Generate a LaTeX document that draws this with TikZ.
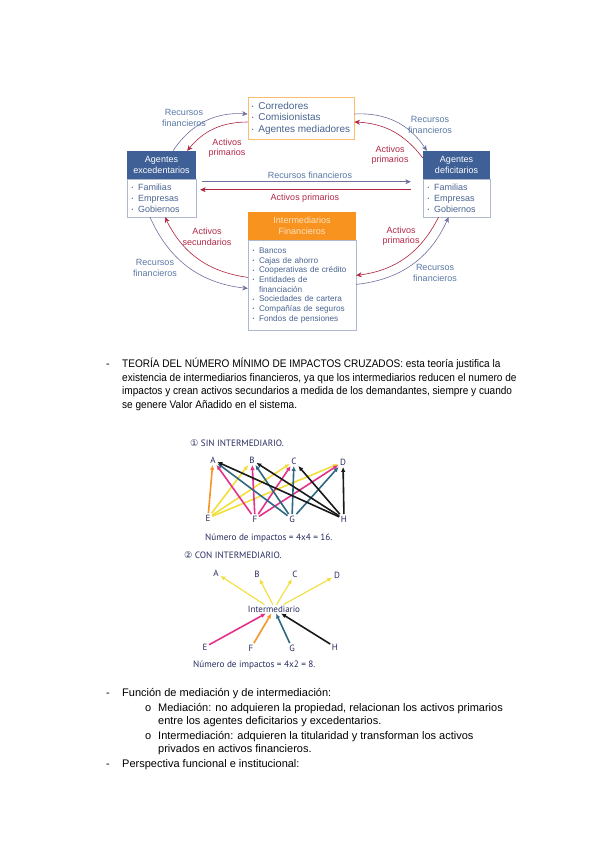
\documentclass[tikz,border=0pt]{standalone}
\usepackage{fontspec}
\setmainfont{Liberation Sans}
\newfontfamily\condfont[FakeStretch=0.915]{Liberation Sans}
\newfontfamily\handfont{PT Sans}
\newfontfamily\symfont{DejaVu Sans}
\usetikzlibrary{arrows.meta,calc,positioning}
\definecolor{headblue}{RGB}{62,96,150}
\definecolor{listblue}{RGB}{74,100,145}
\definecolor{flowblue}{RGB}{112,112,160}
\definecolor{flowred}{RGB}{176,35,63}
\definecolor{labblue}{RGB}{90,120,165}
\definecolor{labred}{RGB}{180,40,70}
\definecolor{medorange}{RGB}{247,147,30}
\definecolor{lightorange}{RGB}{250,190,110}
\definecolor{paleorange}{RGB}{253,228,195}
\definecolor{boxgrey}{RGB}{175,185,205}
\definecolor{handnavy}{RGB}{40,45,95}
\definecolor{inkorange}{RGB}{245,150,40}
\definecolor{inkyellow}{RGB}{242,222,60}
\definecolor{inkpink}{RGB}{228,50,140}
\definecolor{inkteal}{RGB}{45,105,130}
\definecolor{inkblack}{RGB}{25,25,25}
\newcommand\itm{\makebox[6.5pt][l]{\raisebox{0.8pt}{\fontsize{5}{5}\selectfont•}}}
\tikzset{
  headbox/.style={fill=headblue,text=white,minimum height=28pt,align=center,
    inner sep=0pt,font=\fontsize{9}{11}\selectfont},
  listbox/.style={draw=boxgrey,fill=white,text=listblue,align=left,inner sep=4.5pt,
    font=\fontsize{9}{11}\selectfont},
  flowlab/.style={align=center,inner sep=0pt,font=\fontsize{9}{10.5}\selectfont},
  blueflow/.style={flowblue,semithick,-{Stealth[length=5.5pt,width=5pt]}},
  redflow/.style={flowred,semithick,-{Stealth[length=5.5pt,width=5pt]}},
  bodytext/.style={anchor=base west,inner sep=0pt,font=\fontsize{11}{14}\selectfont},
  condtext/.style={bodytext,font=\condfont\fontsize{11}{14}\selectfont},
  handlab/.style={text=handnavy,inner sep=1.5pt,font=\handfont\fontsize{9}{10}\selectfont},
  handnote/.style={text=handnavy,anchor=base west,inner sep=0pt,font=\handfont\fontsize{9.2}{10}\selectfont},
  ink/.style={line width=1.6pt,-{Latex[length=5pt,width=4.5pt]}},
}

\begin{document}
\begin{tikzpicture}[x=1pt,y=-1pt]
  \useasboundingbox (0,0) rectangle (599,848);
  \fill[white] (0,0) rectangle (599,848);

  % sistema financiero
  \node[draw=lightorange,line width=0.8pt,fill=white,text=listblue,align=left,
    minimum width=106pt,minimum height=42pt,inner sep=3pt,
    font=\fontsize{10}{11.5}\selectfont] (med) at (301,118)
    {\itm Corredores\\ \itm Comisionistas\\ \itm Agentes mediadores};
  \node[headbox,minimum width=69pt] (exchead) at (161.5,165) {Agentes\\excedentarios};
  \node[listbox,text width=60pt,minimum height=37pt,below=0pt of exchead] (exclist)
    {\itm Familias\\ \itm Empresas\\ \itm Gobiernos};
  \node[headbox,minimum width=67pt] (defhead) at (456.5,165) {Agentes\\deficitarios};
  \node[listbox,text width=58pt,minimum height=37pt,below=0pt of defhead] (deflist)
    {\itm Familias\\ \itm Empresas\\ \itm Gobiernos};
  \node[headbox,fill=medorange,text=paleorange,minimum width=108pt] (inthead) at (302,226)
    {Intermediarios\\Financieros};
  \node[listbox,text width=99pt,minimum height=90pt,below=0pt of inthead,
    font=\fontsize{8.2}{9.7}\selectfont] (intlist)
    {\itm Bancos\\ \itm Cajas de ahorro\\ \itm Cooperativas de crédito\\
     \itm Entidades de\\ \hspace*{6.5pt}financiación\\ \itm Sociedades de cartera\\
     \itm Compañías de seguros\\ \itm Fondos de pensiones};

  \draw[blueflow] ([xshift=11.5pt]exchead.north) to[bend left=30] ([yshift=4pt]med.west);
  \draw[redflow] ([yshift=-4pt]med.west) to[bend right=25] ([xshift=-9pt]exchead.north east);
  \draw[blueflow] ([yshift=4pt]med.east) to[bend left=30] ([xshift=4pt]defhead.north west);
  \draw[redflow] ([yshift=7pt]defhead.west) to[bend right=25] ([yshift=-4pt]med.east);
  \draw[redflow] ([yshift=8pt]intlist.west) to[bend left=28] ([xshift=3.5pt]exclist.south);
  \draw[blueflow] ([xshift=-11.5pt]exclist.south) to[bend right=30] ([yshift=-3pt]intlist.west);
  \draw[redflow] ([xshift=-18pt]deflist.south) to[bend left=28] ([yshift=10pt]intlist.east);
  \draw[blueflow] ([yshift=1pt]intlist.east) to[bend right=30] ([xshift=-8pt]deflist.south);
  \draw[blueflow,shorten <=6pt,shorten >=12pt] ([yshift=16.5pt]exclist.east) -- ([yshift=16.5pt]deflist.west);
  \draw[redflow,shorten <=12pt,shorten >=4pt] ([yshift=8.5pt]deflist.west) -- ([yshift=8.5pt]exclist.east);

  \node[flowlab,text=labblue] (rf1) at (184,118) {Recursos\\financieros};
  \node[flowlab,text=labred] (ap1) at (227,148) {Activos\\primarios};
  \node[flowlab,text=labblue] (rf2) at (430,125) {Recursos\\financieros};
  \node[flowlab,text=labred] (ap2) at (390,155) {Activos\\primarios};
  \node[flowlab,text=labblue] (rf3) at (310,175) {Recursos financieros};
  \node[flowlab,text=labred] (ap3) at (305,198) {Activos primarios};
  \node[flowlab,text=labred] (as1) at (207,237) {Activos\\secundarios};
  \node[flowlab,text=labblue] (rf4) at (155,268) {Recursos\\financieros};
  \node[flowlab,text=labred] (ap4) at (401,236) {Activos\\primarios};
  \node[flowlab,text=labblue] (rf5) at (435,273) {Recursos\\financieros};

  % texto
  \node[bodytext] (d1) at (106,367) {-};
  \node[condtext] (t1) at (122,367)
    {TEORÍA DEL NÚMERO MÍNIMO DE IMPACTOS CRUZADOS: esta teoría justifica la};
  \node[condtext] (t2) at (122,381)
    {existencia de intermediarios financieros, ya que los intermediarios reducen el numero de};
  \node[condtext] (t3) at (122,394.5)
    {impactos y crean activos secundarios a medida de los demandantes, siempre y cuando};
  \node[condtext] (t4) at (122,408) {se genere Valor Añadido en el sistema.};

  % sin intermediario
  \node[handnote] (h1) at (190,446) {{\symfont ①} SIN INTERMEDIARIO.};
  \node[handlab] (A) at (213,460) {A};
  \node[handlab] (B) at (252,460) {B};
  \node[handlab] (C) at (294,461) {C};
  \node[handlab] (D) at (343,462) {D};
  \node[handlab] (E) at (208,518) {E};
  \node[handlab] (F) at (255,519) {F};
  \node[handlab] (G) at (292,519) {G};
  \node[handlab] (H) at (344,519) {H};
  \draw[ink,inkorange] (E) -- (A);
  \foreach \dst in {B,C,D}
    \draw[ink,inkyellow] (E) -- (\dst);
  \foreach \dst in {A,B,C,D}
    \draw[ink,inkpink] (F) -- (\dst);
  \foreach \dst in {A,B,C,D}
    \draw[ink,inkteal] (G) -- (\dst);
  \foreach \dst in {A,B,C,D}
    \draw[ink,inkblack] (H) -- (\dst);
  \node[handnote] (h2) at (205,540) {Número de impactos = 4x4 = 16.};

  % con intermediario
  \node[handnote] (h3) at (184,558) {{\symfont ②} CON INTERMEDIARIO.};
  \node[handlab] (A2) at (216,573) {A};
  \node[handlab] (B2) at (257,574) {B};
  \node[handlab] (C2) at (295,574) {C};
  \node[handlab] (D2) at (337,575) {D};
  \node[handlab,inner sep=1pt] (inter) at (274,609) {Intermediario};
  \node[handlab] (E2) at (205,647) {E};
  \node[handlab] (F2) at (251,648) {F};
  \node[handlab] (G2) at (292,648) {G};
  \node[handlab] (H2) at (335,647) {H};
  \draw[ink,inkyellow,line width=1.1pt] (inter.155) -- (A2);
  \draw[ink,inkyellow,line width=1.1pt] (inter.105) -- (B2);
  \draw[ink,inkyellow,line width=1.1pt] (inter.60) -- (C2);
  \draw[ink,inkyellow,line width=1.1pt] (inter.25) -- (D2);
  \draw[ink,inkpink] (E2) -- (inter);
  \draw[ink,inkorange] (F2) -- (inter);
  \draw[ink,inkteal] (G2) -- (inter);
  \draw[ink,inkblack] (H2) -- (inter);
  \node[handnote] (h4) at (193,667) {Número de impactos = 4x2 = 8.};

  % funciones
  \node[bodytext] (d2) at (106,696) {-};
  \node[bodytext] (f1) at (122,696) {Función de mediación y de intermediación:};
  \node[bodytext] (o1) at (145,711.5) {o};
  \node[bodytext] (f2) at (158,711.5)
    {Mediación: no adquieren la propiedad, relacionan los activos primarios};
  \node[bodytext] (f3) at (158,724.5) {entre los agentes deficitarios y excedentarios.};
  \node[bodytext] (o2) at (145,739) {o};
  \node[bodytext] (f4) at (158,739)
    {Intermediación: adquieren la titularidad y transforman los activos};
  \node[bodytext] (f5) at (158,752) {privados en activos financieros.};
  \node[bodytext] (d3) at (106,767) {-};
  \node[bodytext] (f6) at (122,767) {Perspectiva funcional e institucional:};
\end{tikzpicture}
\end{document}
